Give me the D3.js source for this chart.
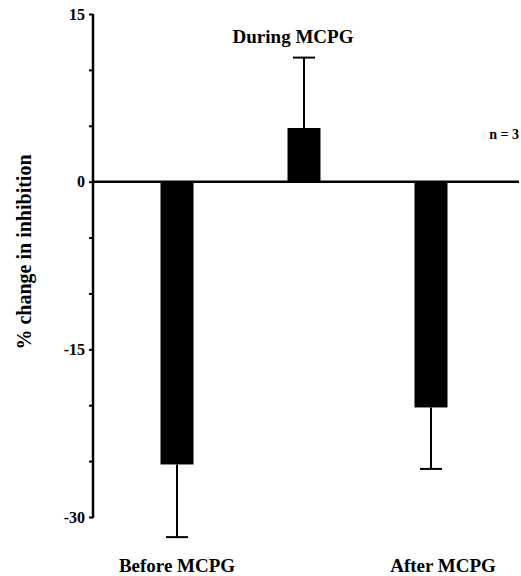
<!DOCTYPE html>
<html>
<head>
<meta charset="utf-8">
<script src="https://cdn.jsdelivr.net/npm/d3@7"></script>
<style>
  html, body { margin: 0; padding: 0; background: #fff; }
  svg text { font-family: "Liberation Serif", "DejaVu Serif", serif; font-weight: bold; fill: #000; }
</style>
</head>
<body>
<svg id="chart" width="521" height="576"></svg>
<script>
// data
const conditions = ['Before MCPG', 'During MCPG', 'After MCPG'];
const meanChange = [-25.3, 4.8, -20.2];
const semChange = [6.5, 6.3, 5.5];
const tickValues = [15, 10, 5, 0, -5, -10, -15, -20, -25, -30];
const labelledTicks = [15, 0, -15, -30];

const svg = d3.select('#chart');

const y = d3.scaleLinear().domain([-30, 15]).range([517, 14]);
const x = d3.scalePoint().domain(conditions).range([177, 431]);
const barW = 33;
const capW = 22;
const axisX = 93;

// ─── Y axis ───────────────────────────────────────────────────────────────────

const yAxis = d3.axisLeft(y)
  .tickValues(tickValues)
  .tickSize(4)
  .tickFormat(d => labelledTicks.includes(d) ? String(d) : '');   // plain hyphen, like the figure

const gy = svg.append('g')
  .attr('transform', `translate(${axisX},0)`)
  .call(yAxis);
gy.select('.domain').attr('stroke', '#000').attr('stroke-width', 2.5)
  .attr('d', `M0,${y(15)}V${y(-30) + 1}`);
gy.selectAll('.tick line').attr('stroke', '#000').attr('stroke-width', 2);
gy.selectAll('.tick text')
  .attr('x', -8)
  .attr('font-size', 16)
  .attr('font-family', '"Liberation Serif", serif')
  .attr('font-weight', 'bold');

// zero line
svg.append('line')
  .attr('x1', axisX).attr('x2', 519)
  .attr('y1', y(0)).attr('y2', y(0))
  .attr('stroke', '#000').attr('stroke-width', 2.5);

// ─── Bars + error bars ───────────────────────────────────────────────────────

const rows = conditions.map((c, i) => ({ c, m: meanChange[i], e: semChange[i] }));

svg.append('g').selectAll('rect').data(rows).join('rect')
  .attr('x', d => x(d.c) - barW / 2)
  .attr('width', barW)
  .attr('y', d => Math.min(y(d.m), y(0)))
  .attr('height', d => Math.abs(y(d.m) - y(0)))
  .attr('fill', '#000');

const errEnd = d => d.m >= 0 ? d.m + d.e : d.m - d.e;

const eg = svg.append('g').attr('stroke', '#000').attr('stroke-width', 2);
eg.selectAll('line.stem').data(rows).join('line')
  .attr('class', 'stem')
  .attr('x1', d => x(d.c)).attr('x2', d => x(d.c))
  .attr('y1', d => y(d.m)).attr('y2', d => y(errEnd(d)));
eg.selectAll('line.cap').data(rows).join('line')
  .attr('class', 'cap')
  .attr('x1', d => x(d.c) - capW / 2).attr('x2', d => x(d.c) + capW / 2)
  .attr('y1', d => y(errEnd(d))).attr('y2', d => y(errEnd(d)));

// ─── Category labels ─────────────────────────────────────────────────────────

const labelPos = { 'Before MCPG': [177, 572], 'During MCPG': [293, 43], 'After MCPG': [443, 572] };
svg.append('g').selectAll('text').data(conditions).join('text')
  .attr('x', d => labelPos[d][0])
  .attr('y', d => labelPos[d][1])
  .attr('text-anchor', 'middle')
  .attr('font-size', 19)
  .text(d => d);

svg.append('text')
  .attr('x', 519).attr('y', 139)
  .attr('text-anchor', 'end')
  .attr('font-size', 14)
  .text('n = 3');

// y axis title
svg.append('text')
  .attr('transform', 'translate(31,252) rotate(-90)')
  .attr('text-anchor', 'middle')
  .attr('font-size', 20)
  .text('% change in inhibition');
</script>
</body>
</html>
